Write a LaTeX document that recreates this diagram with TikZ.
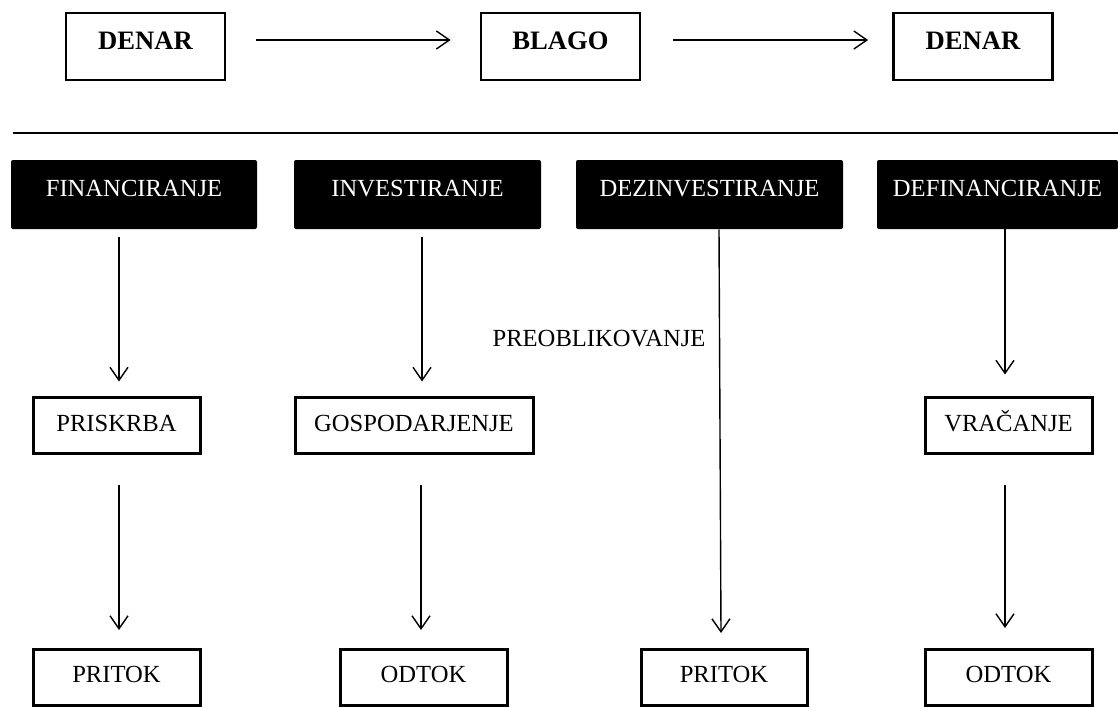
\documentclass[tikz,border=0pt]{standalone}
\usepackage{fontspec}
\setmainfont{Liberation Serif}
\usetikzlibrary{arrows.meta,calc}
\begin{document}
\begin{tikzpicture}[x=0.5pt,y=-0.5pt,
  topbox/.style={draw, line width=1.4pt, minimum width=79.5pt, minimum height=33.5pt, inner sep=0pt,
    text height=9pt, text depth=6.5pt, font=\fontsize{13.3}{15}\selectfont\bfseries},
  blackbox/.style={fill=black, rounded corners=1pt, minimum height=34.5pt, inner sep=0pt,
    text=white, text height=8.14pt, text depth=6.5pt, font=\fontsize{12.3}{14}\selectfont},
  midbox/.style={draw, line width=1.5pt, minimum height=28pt, inner sep=0pt,
    text height=8.14pt, text depth=2pt, font=\fontsize{12.3}{14}\selectfont},
  botbox/.style={draw, line width=1.5pt, minimum height=28pt, inner sep=0pt,
    text height=8.14pt, text depth=3pt, font=\fontsize{12.3}{14}\selectfont},
  plain/.style={inner sep=0pt, text height=8.14pt, text depth=0pt, font=\fontsize{12.3}{14}\selectfont},
  arr/.style={line width=0.7pt, -{Straight Barb[length=6.5pt,width=9pt,line width=0.7pt]}},
  sep/.style={line width=0.9pt}
]
\useasboundingbox (0,0) rectangle (1118,707);

% top row
\node[topbox] (d1) at (145.5,46.5) {DENAR};
\node[topbox] (bl) at (560.5,46.5) {BLAGO};
\node[topbox] (d2) at (973,46.5) {DENAR};
\draw[arr] ($(d1.east)+(30,-6.5)$) -- ($(bl.west)+(-29,-6.5)$);
\draw[arr] ($(bl.east)+(32,-6.5)$) -- ($(d2.west)+(-24,-6.5)$);

% separator
\coordinate (hlA) at (13,133);
\coordinate (hlB) at (1118,133);
\draw[sep] (hlA) -- (hlB);

% black headers
\node[blackbox, minimum width=123pt] (fin) at (134,194.5) {FINANCIRANJE};
\node[blackbox, minimum width=123.5pt] (inv) at (417.5,194.5) {INVESTIRANJE};
\node[blackbox, minimum width=133.5pt] (dez) at (709.5,194.5) {DEZINVESTIRANJE};
\node[blackbox, minimum width=120.5pt] (def) at (997.5,194.5) {DEFINANCIRANJE};

% middle row
\node[midbox, minimum width=83.5pt] (pris) at (116.5,425) {PRISKRBA};
\node[midbox, minimum width=119pt] (gosp) at (414,425) {GOSPODARJENJE};
\node[midbox, minimum width=83.5pt] (vrac) at (1008.5,425) {VRAČANJE};

% bottom row
\node[botbox, minimum width=83.5pt] (pr1) at (116.5,677.5) {PRITOK};
\node[botbox, minimum width=83.5pt] (od1) at (423.5,677.5) {ODTOK};
\node[botbox, minimum width=83pt] (pr2) at (724,677.5) {PRITOK};
\node[botbox, minimum width=83.5pt] (od2) at (1008.5,677.5) {ODTOK};

% label
\node[plain] (preo) at (599,338) {PREOBLIKOVANJE};

% arrows
\draw[arr] ($(fin.south)+(-15,8)$) -- ($(pris.north)+(2.5,-14)$);
\draw[arr] ($(pris.south)+(2.5,30)$) -- ($(pr1.north)+(2.5,-18)$);
\draw[arr] ($(inv.south)+(4.5,8)$) -- ($(gosp.north)+(8,-14)$);
\draw[arr] ($(gosp.south)+(7,30)$) -- ($(od1.north)+(-2.5,-18)$);
\draw[arr] ($(dez.south)+(9.5,0)$) -- ($(pr2.north)+(-3,-15)$);
\draw[arr] ($(def.south)+(7.5,0)$) -- ($(vrac.north)+(-3.5,-21)$);
\draw[arr] ($(vrac.south)+(-3.5,30)$) -- ($(od2.north)+(-3.5,-20)$);
\end{tikzpicture}
\end{document}
